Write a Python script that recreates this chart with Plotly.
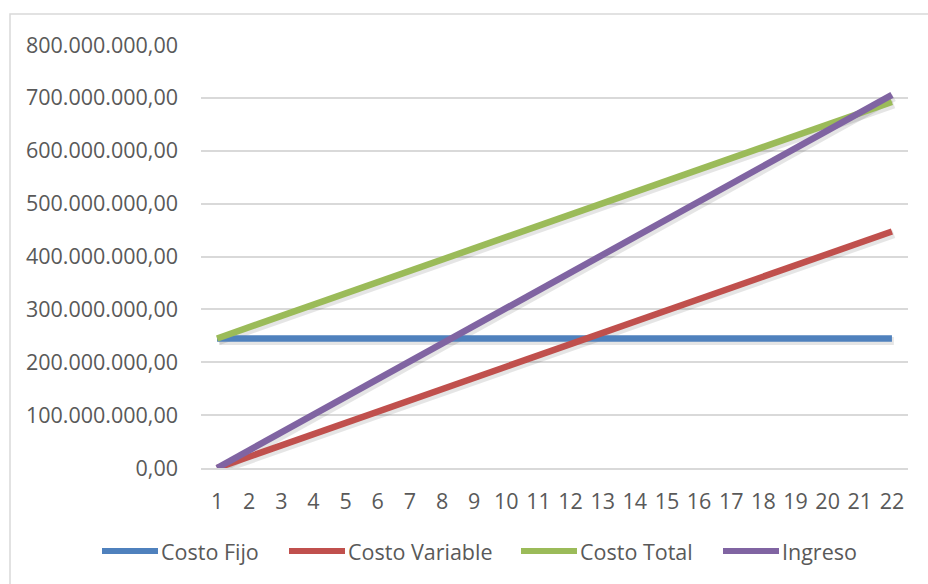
import plotly.graph_objects as go

# Periods (units produced, in steps)
periodos = list(range(1, 23))

# Series values
costo_fijo = [245_000_000] * 22
costo_variable = [0, 21_300_000, 42_600_000, 63_900_000, 85_200_000, 106_500_000,
                  127_800_000, 149_100_000, 170_400_000, 191_700_000, 213_000_000,
                  234_300_000, 255_600_000, 276_900_000, 298_200_000, 319_500_000,
                  340_800_000, 362_100_000, 383_400_000, 404_700_000, 426_000_000,
                  447_300_000]
costo_total = [245_000_000, 266_300_000, 287_600_000, 308_900_000, 330_200_000,
               351_500_000, 372_800_000, 394_100_000, 415_400_000, 436_700_000,
               458_000_000, 479_300_000, 500_600_000, 521_900_000, 543_200_000,
               564_500_000, 585_800_000, 607_100_000, 628_400_000, 649_700_000,
               671_000_000, 692_300_000]
ingreso = [0, 33_600_000, 67_200_000, 100_800_000, 134_400_000, 168_000_000,
           201_600_000, 235_200_000, 268_800_000, 302_400_000, 336_000_000,
           369_600_000, 403_200_000, 436_800_000, 470_400_000, 504_000_000,
           537_600_000, 571_200_000, 604_800_000, 638_400_000, 672_000_000,
           705_600_000]

series_names = ["Costo Fijo", "Costo Variable", "Costo Total", "Ingreso"]
series_values = [costo_fijo, costo_variable, costo_total, ingreso]
series_colors = ["#4F81BD", "#C0504D", "#9BBB59", "#8064A2"]

y_ticks = [0, 100_000_000, 200_000_000, 300_000_000, 400_000_000,
           500_000_000, 600_000_000, 700_000_000, 800_000_000]

W, H = 928, 584
ML, MR, MT, MB = 201, 20, 45, 116
PW, PH = W - ML - MR, H - MT - MB
FONT = "Open Sans"
FS = 21.5
TXT = "#595959"
GRID = "#D9D9D9"


def fx(px):
    return (px - ML) / PW


def fy(py):
    return (H - MB - py) / PH


fig = go.Figure()

# soft drop shadow under each line
for vals in series_values:
    fig.add_trace(go.Scatter(
        x=[p + 0.06 for p in periodos], y=[v - 5_000_000 for v in vals],
        mode="lines", line=dict(color="rgba(0,0,0,0.10)", width=8),
        hoverinfo="skip", showlegend=False))

for name, vals, color in zip(series_names, series_values, series_colors):
    fig.add_trace(go.Scatter(
        x=periodos, y=vals, name=name, mode="lines",
        line=dict(color=color, width=6.5), showlegend=False))

shapes = [
    # chart frame
    dict(type="rect", xref="paper", yref="paper",
         x0=fx(10), x1=fx(960), y0=fy(14), y1=fy(620),
         line=dict(color=GRID, width=1.5), fillcolor="rgba(0,0,0,0)", layer="below"),
]
annotations = []

# legend row drawn below the plot
legend_items = [(102, 158), (289, 345), (521, 577), (723, 779)]
ly = 551
for (x0, x1), name, color in zip(legend_items, series_names, series_colors):
    shapes.append(dict(type="line", xref="paper", yref="paper",
                       x0=fx(x0), x1=fx(x1), y0=fy(ly), y1=fy(ly),
                       line=dict(color=color, width=6)))
    annotations.append(dict(xref="paper", yref="paper", x=fx(x1 + 1), y=fy(ly),
                            text=name, showarrow=False, xanchor="left",
                            yanchor="middle",
                            font=dict(family=FONT, size=FS, color=TXT)))

fig.update_layout(
    width=W, height=H,
    margin=dict(l=ML, r=MR, t=MT, b=MB, pad=0),
    paper_bgcolor="white", plot_bgcolor="white",
    separators=",.",
    font=dict(family=FONT, size=FS, color=TXT),
    shapes=shapes, annotations=annotations,
    xaxis=dict(range=[0.5, 22.5], tickmode="array", tickvals=periodos,
               ticktext=[str(p) for p in periodos],
               showgrid=False, zeroline=False, showline=True,
               linecolor=GRID, linewidth=1.5, ticks="",
               ticklabelstandoff=13, fixedrange=True),
    yaxis=dict(range=[0, 800_000_000], tickmode="array", tickvals=y_ticks,
               tickformat=",.2f", showgrid=True, gridcolor=GRID, gridwidth=1.5,
               zeroline=False, showline=False, ticks="",
               ticklabelstandoff=22, fixedrange=True),
)

fig.write_html("out.html")
